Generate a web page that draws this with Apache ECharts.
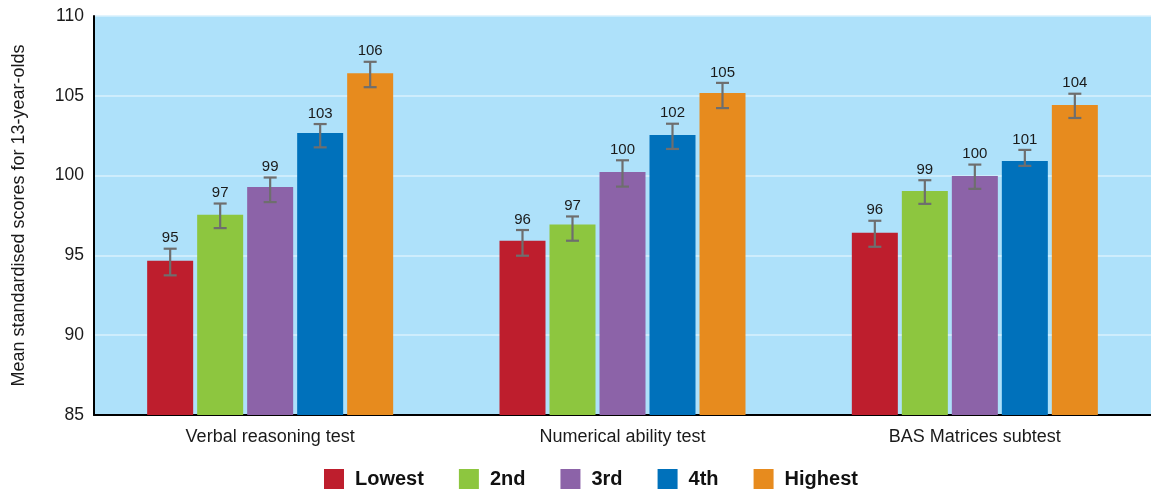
<!DOCTYPE html>
<html>
<head>
<meta charset="utf-8">
<script src="https://cdn.jsdelivr.net/npm/echarts@6/dist/echarts.min.js"></script>
<style>
html,body{margin:0;padding:0;background:#fff;}
#chart{width:1151px;height:492px;}
</style>
</head>
<body>
<div id="chart"></div>
<script>
// ---- data ----
var categories = ['Verbal reasoning test', 'Numerical ability test', 'BAS Matrices subtest'];
var groupNames = ['Lowest', '2nd', '3rd', '4th', 'Highest'];

var lowest  = [94.67, 95.92, 96.42];
var second  = [97.54, 96.94, 99.04];
var third   = [99.29, 100.23, 99.98];
var fourth  = [102.67, 102.54, 100.92];
var highest = [106.42, 105.17, 104.42];

var lowestErrLow   = [93.75, 94.98, 95.54];
var lowestErrHigh  = [95.42, 96.59, 97.17];
var secondErrLow   = [96.71, 95.92, 98.23];
var secondErrHigh  = [98.25, 97.44, 99.71];
var thirdErrLow    = [98.34, 99.31, 99.17];
var thirdErrHigh   = [99.88, 100.96, 100.69];
var fourthErrLow   = [101.77, 101.67, 100.61];
var fourthErrHigh  = [103.23, 103.25, 101.61];
var highestErrLow  = [105.54, 104.23, 103.61];
var highestErrHigh = [107.13, 105.81, 105.13];

var lowestLabels  = [95, 96, 96];
var secondLabels  = [97, 97, 99];
var thirdLabels   = [99, 100, 100];
var fourthLabels  = [103, 102, 101];
var highestLabels = [106, 105, 104];

var yTicks = [85, 90, 95, 100, 105, 110];

// ---- styling ----
var colors = ['#be1e2d', '#8dc63f', '#8c63a8', '#0071bb', '#e78b1e'];
var FONT = '"Liberation Sans", Arial, Helvetica, sans-serif';
var BAR_W = 46, BAR_GAP = 4;

var values = [lowest, second, third, fourth, highest];
var errLow = [lowestErrLow, secondErrLow, thirdErrLow, fourthErrLow, highestErrLow];
var errHigh = [lowestErrHigh, secondErrHigh, thirdErrHigh, fourthErrHigh, highestErrHigh];
var labels = [lowestLabels, secondLabels, thirdLabels, fourthLabels, highestLabels];

var barSeries = groupNames.map(function (name, i) {
  return {
    name: name,
    type: 'bar',
    data: values[i],
    barWidth: BAR_W,
    barGap: (BAR_GAP / BAR_W * 100).toFixed(2) + '%',
    itemStyle: { color: colors[i] },
    z: 2
  };
});

var errData = [];
for (var s = 0; s < groupNames.length; s++) {
  for (var c = 0; c < categories.length; c++) {
    errData.push([c, errLow[s][c], errHigh[s][c], s, labels[s][c]]);
  }
}

var errSeries = {
  type: 'custom',
  name: 'err',
  data: errData,
  z: 5,
  silent: true,
  encode: { x: 0, y: [1, 2] },
  renderItem: function (params, api) {
    var ci = api.value(0), lo = api.value(1), hi = api.value(2), si = api.value(3), lab = api.value(4);
    var pLo = api.coord([ci, lo]);
    var pHi = api.coord([ci, hi]);
    var off = (si - 2) * (BAR_W + BAR_GAP);
    var x = pLo[0] + off;
    var cap = 6.5;
    var st = { stroke: '#6e6e6e', lineWidth: 2.2 };
    return {
      type: 'group',
      children: [
        { type: 'line', shape: { x1: x, y1: pLo[1], x2: x, y2: pHi[1] }, style: st },
        { type: 'line', shape: { x1: x - cap, y1: pLo[1], x2: x + cap, y2: pLo[1] }, style: st },
        { type: 'line', shape: { x1: x - cap, y1: pHi[1], x2: x + cap, y2: pHi[1] }, style: st },
        { type: 'text', style: { text: String(lab), x: x, y: pHi[1] - 3, align: 'center', verticalAlign: 'bottom',
            fill: '#1a1a1a', font: '15px ' + FONT } }
      ]
    };
  }
};

var chart = echarts.init(document.getElementById('chart'), null, { renderer: 'canvas' });
chart.setOption({
  animation: false,
  backgroundColor: '#ffffff',
  textStyle: { fontFamily: FONT },
  grid: {
    left: 94, top: 16, width: 1057, height: 399,
    show: true, backgroundColor: '#aee1fa', borderWidth: 0
  },
  legend: {
    data: groupNames,
    left: 324, top: 469, padding: 0,
    icon: 'rect', itemWidth: 20, itemHeight: 20, itemGap: 35,
    textStyle: { fontSize: 20, fontWeight: 'bold', color: '#111', fontFamily: FONT, padding: [0, 0, 0, 6] }
  },
  xAxis: {
    type: 'category',
    data: categories,
    axisLine: { lineStyle: { color: '#000', width: 2 } },
    axisTick: { show: false },
    axisLabel: { fontSize: 18, color: '#1a1a1a', margin: 13 }
  },
  yAxis: {
    type: 'value',
    min: yTicks[0], max: yTicks[yTicks.length - 1], interval: 5,
    name: 'Mean standardised scores for 13-year-olds',
    nameLocation: 'middle', nameGap: 66,
    nameTextStyle: { fontSize: 18, color: '#1a1a1a' },
    axisLine: { show: true, lineStyle: { color: '#000', width: 2 } },
    axisTick: { show: false },
    axisLabel: { fontSize: 17.5, color: '#1a1a1a', margin: 10 },
    splitLine: { lineStyle: { color: '#d9f1fc', width: 1.5 } }
  },
  series: barSeries.concat([errSeries])
});
</script>
</body>
</html>
